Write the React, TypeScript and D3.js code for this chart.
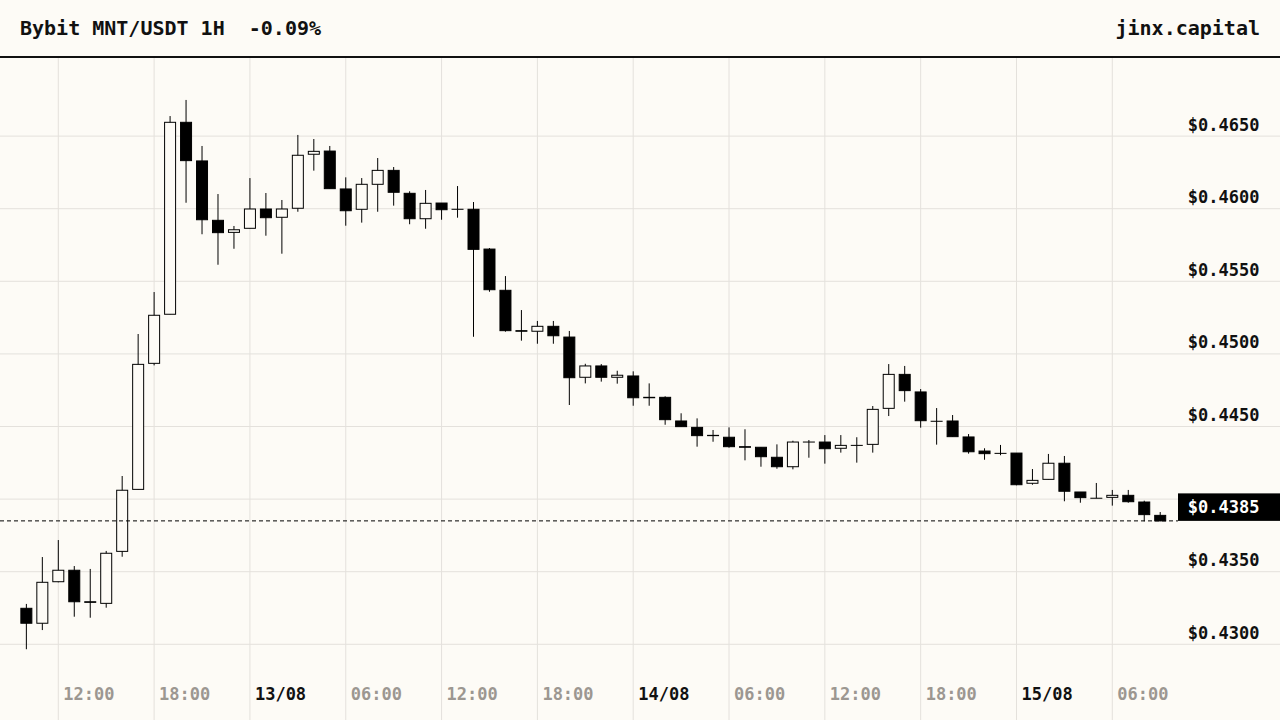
import * as d3 from "d3";

const W = 1280;
const H = 720;
const FONT = "'DejaVu Sans Mono', monospace";
const BG = "#fdfbf6";
const GRID = "#e4e1dc";

const title = "Bybit MNT/USDT 1H  -0.09%";
const brand = "jinx.capital";
const lastPrice = 0.4385;

// hourly candles from 12/08 10:00 to 15/08 09:00
const start = new Date(Date.UTC(2023, 7, 12, 10));
const end = new Date(Date.UTC(2023, 7, 15, 10));

const opens = [
  0.43248, 0.43145, 0.43431, 0.4351, 0.43293, 0.43282, 0.4364, 0.44067, 0.44935, 0.45273,
  0.46595, 0.46329, 0.4592, 0.45837, 0.45865, 0.45998, 0.45941, 0.46003, 0.46375, 0.46397,
  0.46136, 0.45996, 0.46168, 0.46264, 0.46106, 0.45931, 0.46039, 0.45996, 0.45996, 0.45722,
  0.45438, 0.4516, 0.45156, 0.4519, 0.45116, 0.44839, 0.44917, 0.44839, 0.44848, 0.44698,
  0.44701, 0.44538, 0.44494, 0.44437, 0.44426, 0.44361, 0.44357, 0.44288, 0.44223, 0.44393,
  0.44393, 0.4435, 0.4437, 0.44377, 0.44625, 0.44859, 0.44738, 0.44536, 0.44538, 0.44428,
  0.44331, 0.44315, 0.44317, 0.44109, 0.44136, 0.44247, 0.44049, 0.44006, 0.44012, 0.44026,
  0.4398, 0.43888,
];
const highs = [
  0.43278, 0.43601, 0.43718, 0.43539, 0.43519, 0.43643, 0.44159, 0.45137, 0.45426, 0.46638,
  0.46749, 0.46432, 0.46101, 0.45881, 0.46211, 0.46108, 0.4606, 0.46508, 0.4648, 0.46432,
  0.46216, 0.46211, 0.46349, 0.46287, 0.4612, 0.46129, 0.46039, 0.46156, 0.46046, 0.45729,
  0.45536, 0.45302, 0.45227, 0.45227, 0.45158, 0.44932, 0.4493, 0.44884, 0.4488, 0.44797,
  0.44708, 0.44591, 0.44556, 0.44476, 0.44494, 0.44481, 0.44357, 0.44377, 0.44402, 0.44407,
  0.44441, 0.44441, 0.44426, 0.44641, 0.4493, 0.44917, 0.44758, 0.44627, 0.44579, 0.44448,
  0.4435, 0.44373, 0.44317, 0.44207, 0.44311, 0.44297, 0.44049, 0.44111, 0.44063, 0.44063,
  0.43989, 0.43911,
];
const lows = [
  0.42966, 0.43098, 0.43427, 0.4319, 0.43183, 0.43252, 0.43603, 0.44067, 0.44921, 0.45273,
  0.46041, 0.45824, 0.45614, 0.45724, 0.45865, 0.45814, 0.4569, 0.45979, 0.46262, 0.46138,
  0.45883, 0.45904, 0.45979, 0.46021, 0.45893, 0.45862, 0.45924, 0.45938, 0.45118, 0.45428,
  0.45153, 0.45091, 0.4507, 0.4507, 0.44648, 0.44797, 0.44809, 0.44795, 0.44643, 0.44643,
  0.44512, 0.44499, 0.44361, 0.44395, 0.44354, 0.44267, 0.44223, 0.44209, 0.44205, 0.44285,
  0.44244, 0.4432, 0.44251, 0.4432, 0.44572, 0.44671, 0.44492, 0.44375, 0.4443, 0.44313,
  0.44271, 0.44302, 0.44095, 0.44099, 0.44136, 0.43985, 0.43975, 0.44006, 0.43955, 0.43975,
  0.43847, 0.43848,
];
const closes = [
  0.43145, 0.43427, 0.4351, 0.43293, 0.43289, 0.43627, 0.44061, 0.44928, 0.45266, 0.46595,
  0.46331, 0.45924, 0.45835, 0.45855, 0.45998, 0.45938, 0.45998, 0.46368, 0.46395, 0.46138,
  0.45986, 0.46168, 0.46264, 0.46113, 0.45931, 0.46037, 0.45993, 0.45996, 0.4572, 0.45442,
  0.4516, 0.45156, 0.4519, 0.45125, 0.44836, 0.44917, 0.44839, 0.44853, 0.44698, 0.44701,
  0.44547, 0.44499, 0.44437, 0.44439, 0.44361, 0.44357, 0.44292, 0.44223, 0.44393, 0.44393,
  0.44347, 0.4437, 0.4437, 0.44618, 0.44859, 0.44747, 0.4454, 0.44536, 0.4443, 0.44326,
  0.44313, 0.44315, 0.44099, 0.44129, 0.44247, 0.44054, 0.4401, 0.44006, 0.44026, 0.43982,
  0.43893, 0.4385,
];

const priceTicks = [0.43, 0.435, 0.44, 0.445, 0.45, 0.455, 0.46, 0.465];
const labelledTicks = [0.43, 0.435, 0.445, 0.45, 0.455, 0.46, 0.465];

export default function App() {
  const times = d3.utcHour.range(start, end);
  const candles = times.map((t, i) => ({
    t,
    o: opens[i],
    h: highs[i],
    l: lows[i],
    c: closes[i],
  }));

  const x = d3
    .scaleUtc()
    .domain([new Date(Date.UTC(2023, 7, 12, 12)), new Date(Date.UTC(2023, 7, 15, 6))])
    .range([58.3, 1112.3]);
  const y = d3.scaleLinear().domain([0.43, 0.465]).range([644.3, 136.1]);

  const timeTicks = d3.utcHour.every(6)!.range(new Date(Date.UTC(2023, 7, 12, 12)), end);
  const fmtDay = d3.utcFormat("%d/%m");
  const fmtHour = d3.utcFormat("%H:%M");
  const fmtPrice = (v: number) => "$" + d3.format(".4f")(v);

  const bodyW = 11;
  const ly = y(lastPrice);

  return (
    <svg
      width={W}
      height={H}
      style={{ position: "fixed", left: 0, top: 0, background: BG }}
      fontFamily={FONT}
      fontWeight="bold"
    >
      <rect width={W} height={H} fill={BG} />

      {/* grid */}
      {timeTicks.map((t) => (
        <line key={+t} x1={x(t)} x2={x(t)} y1={58} y2={H} stroke={GRID} strokeWidth={1} />
      ))}
      {priceTicks.map((p) => (
        <line key={p} x1={0} x2={W} y1={y(p)} y2={y(p)} stroke={GRID} strokeWidth={1} />
      ))}

      {/* header */}
      <text x={20} y={35} fontSize={20} fill="#111" style={{ whiteSpace: "pre" }}>
        {title}
      </text>
      <text x={1260} y={35} fontSize={20} fill="#111" textAnchor="end">
        {brand}
      </text>
      <line x1={0} x2={W} y1={57} y2={57} stroke="#111" strokeWidth={2} />

      {/* candles */}
      {candles.map((d) => {
        const cx = x(d.t);
        const up = d.c >= d.o;
        const top = y(Math.max(d.o, d.c));
        const bot = y(Math.min(d.o, d.c));
        return (
          <g key={+d.t}>
            <line x1={cx} x2={cx} y1={y(d.h)} y2={y(d.l)} stroke="#000" strokeWidth={1} />
            <rect
              x={cx - bodyW / 2}
              y={top}
              width={bodyW}
              height={Math.max(bot - top, 0.01)}
              fill={up ? BG : "#000"}
              stroke="#000"
              strokeWidth={1}
            />
          </g>
        );
      })}

      {/* price axis */}
      {labelledTicks.map((p) => (
        <text key={p} x={1259.5} y={y(p) - 5.5} fontSize={17} fill="#111" textAnchor="end">
          {fmtPrice(p)}
        </text>
      ))}

      {/* time axis */}
      {timeTicks.map((t) => {
        const isDay = t.getUTCHours() === 0;
        return (
          <text key={+t} x={x(t) + 5} y={700} fontSize={17} fill={isDay ? "#111" : "#9c9791"}>
            {isDay ? fmtDay(t) : fmtHour(t)}
          </text>
        );
      })}

      {/* last price */}
      <line x1={0} x2={1178} y1={ly} y2={ly} stroke="#000" strokeWidth={1} strokeDasharray="4 3" />
      <rect x={1178} y={ly - 27.5} width={W - 1178} height={27.5} fill="#000" />
      <text x={1259.5} y={ly - 7.5} fontSize={17} fill="#fff" textAnchor="end">
        {fmtPrice(lastPrice)}
      </text>
    </svg>
  );
}
